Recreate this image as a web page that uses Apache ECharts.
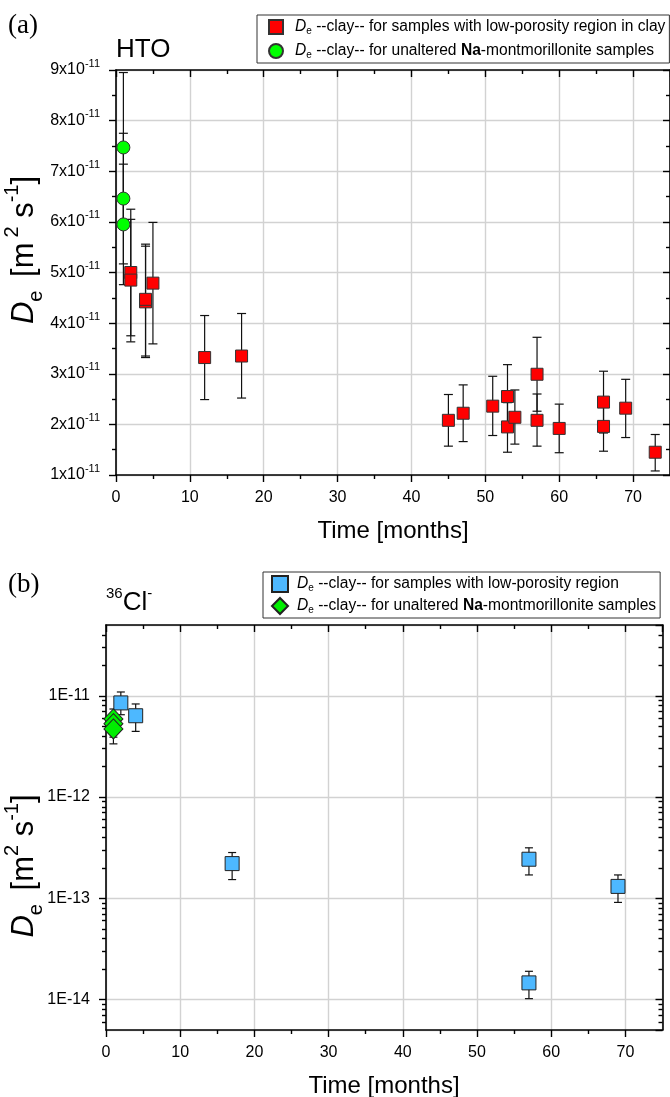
<!DOCTYPE html>
<html><head><meta charset="utf-8">
<script src="https://cdn.jsdelivr.net/npm/echarts@6/dist/echarts.min.js"></script>
<style>html,body{margin:0;padding:0;background:#fff}#c{width:670px;height:1097px}</style>
</head><body><div id="c"></div>
<script>
// ---------- Panel (a): HTO, De in m^2 s^-1 ----------
const htoRedX  = [2, 2, 4, 4, 5, 12, 17, 45, 47, 51, 53, 53, 54, 57, 57, 60, 66, 66, 69, 73];
const htoRedDe = [5.00e-11, 4.85e-11, 4.42e-11, 4.47e-11, 4.79e-11, 3.32e-11, 3.35e-11, 2.08e-11, 2.22e-11, 2.36e-11,
                  2.55e-11, 1.95e-11, 2.14e-11, 2.99e-11, 2.08e-11, 1.92e-11, 2.44e-11, 1.96e-11, 2.32e-11, 1.45e-11];
const htoRedLo = [3.75e-11, 3.63e-11, 3.32e-11, 3.35e-11, 3.59e-11, 2.49e-11, 2.52e-11, 1.57e-11, 1.66e-11, 1.78e-11,
                  1.93e-11, 1.45e-11, 1.61e-11, 2.26e-11, 1.57e-11, 1.44e-11, 1.83e-11, 1.47e-11, 1.74e-11, 1.08e-11];
const htoRedHi = [6.25e-11, 6.05e-11, 5.52e-11, 5.56e-11, 5.99e-11, 4.15e-11, 4.19e-11, 2.59e-11, 2.78e-11, 2.95e-11,
                  3.18e-11, 2.43e-11, 2.68e-11, 3.72e-11, 2.60e-11, 2.40e-11, 3.05e-11, 2.44e-11, 2.89e-11, 1.80e-11];
const htoGreenX  = [1, 1, 1];
const htoGreenDe = [7.47e-11, 6.46e-11, 5.95e-11];
const htoGreenLo = [5.99e-11, 5.17e-11, 4.76e-11];
const htoGreenHi = [8.95e-11, 7.75e-11, 7.14e-11];

// ---------- Panel (b): 36Cl-, De in m^2 s^-1 ----------
const clBlueX  = [2, 4, 17, 57, 57, 69];
const clBlueDe = [8.5e-12, 6.35e-12, 2.2e-13, 2.43e-13, 1.46e-14, 1.31e-13];
const clBlueLo = [6.5e-12, 4.45e-12, 1.53e-13, 1.7e-13, 1.02e-14, 9.1e-14];
const clBlueHi = [1.09e-11, 8.3e-12, 2.83e-13, 3.15e-13, 1.9e-14, 1.7e-13];
const clGreenX  = [1, 1, 1];
const clGreenDe = [5.9e-12, 5.3e-12, 4.7e-12];
const clGreenLo = [4.6e-12, 3.9e-12, 3.35e-12];
const clGreenHi = [7.4e-12, 6.6e-12, 6.0e-12];

// ---------- ticks ----------
const xMinorTicks = [5, 15, 25, 35, 45, 55, 65];
const htoYMin = 1e-11, htoYMax = 9e-11, htoYStep = 1e-11;
const clYMin = 5e-15, clYMax = 5e-11;

const legendText = {
  'hto-red':  '{i|D}{sub|e} --clay-- for samples with low-porosity region in clay',
  'hto-green':'{i|D}{sub|e} --clay-- for unaltered {b|Na}-montmorillonite samples',
  'cl-blue':  '{i|D}{sub|e} --clay-- for samples with low-porosity region',
  'cl-green': '{i|D}{sub|e} --clay-- for unaltered {b|Na}-montmorillonite samples'
};

const FONT = 'Liberation Sans';
const AXC = '#000';
const GRID_C = '#d2d2d2';

const logMin = Math.log10(clYMin), logMax = Math.log10(clYMax);
const clMinor = [];
for (let d = -15; d <= -11; d++) for (let k = 2; k <= 9; k++) {
  const v = d + Math.log10(k);
  if (v > logMin + 1e-6 && v < logMax - 1e-6) clMinor.push(v);
}

function xMain(grid, pos, labels) {
  return { gridIndex: grid, type: 'value', min: 0, max: 75, interval: 10, position: pos,
    axisLine: { show: true, onZero: false, lineStyle: { color: AXC, width: 1.6 } },
    axisTick: { show: true, inside: pos === 'top', length: 7, lineStyle: { color: AXC, width: 1.4 } },
    axisLabel: { show: labels, margin: 15, fontSize: 16, color: '#000', fontFamily: FONT, showMaxLabel: false },
    splitLine: { show: labels, lineStyle: { color: GRID_C, width: 1.4 } } };
}
function xMinor(grid, pos) {
  return { gridIndex: grid, type: 'value', min: 0, max: 75, position: pos,
    axisLine: { show: false, onZero: false },
    axisTick: { show: true, inside: pos === 'top', length: 4, customValues: xMinorTicks, lineStyle: { color: AXC, width: 1.4 } },
    axisLabel: { show: false }, splitLine: { show: false } };
}
function yHto(pos) {
  return { gridIndex: 0, type: 'value', min: htoYMin, max: htoYMax, interval: htoYStep, position: pos,
    axisLine: { show: true, onZero: false, lineStyle: { color: AXC, width: 1.6 } },
    axisTick: { show: true, inside: pos === 'right', length: 7, lineStyle: { color: AXC, width: 1.4 } },
    minorTick: { show: true, splitNumber: 2, length: 4, lineStyle: { color: AXC, width: 1.4 } },
    axisLabel: { show: pos === 'left', margin: 16, color: '#000', fontFamily: FONT,
      formatter: v => '{m|' + Math.round(v / 1e-11) + 'x10}{s|-11}',
      rich: { m: { fontSize: 16, lineHeight: 24, fontFamily: FONT, color: '#000' },
              s: { fontSize: 11, lineHeight: 11, verticalAlign: 'top', fontFamily: FONT, color: '#000' } } },
    splitLine: { show: pos === 'left', lineStyle: { color: GRID_C, width: 1.4 } } };
}
function yCl(pos) {
  return { gridIndex: 1, type: 'log', logBase: 10, min: clYMin, max: clYMax, position: pos,
    axisLine: { show: true, onZero: false, lineStyle: { color: AXC, width: 1.6 } },
    axisTick: { show: true, inside: pos === 'right', length: 7, lineStyle: { color: AXC, width: 1.4 } },
    axisLabel: { show: pos === 'left', margin: 16, fontSize: 16, color: '#000', fontFamily: FONT,
      showMinLabel: false, showMaxLabel: false,
      formatter: v => '1E' + Math.round(Math.log10(v)) },
    splitLine: { show: pos === 'left', lineStyle: { color: GRID_C, width: 1.4 } } };
}
function yClMinor(pos) {
  return { gridIndex: 1, type: 'value', min: logMin, max: logMax, position: pos,
    axisLine: { show: false, onZero: false },
    axisTick: { show: true, inside: pos === 'right', length: 4, customValues: clMinor, lineStyle: { color: AXC, width: 1.4 } },
    axisLabel: { show: false }, splitLine: { show: false } };
}

function errSeries(xi, yi, xs, lo, hi, w) {
  return { type: 'custom', xAxisIndex: xi, yAxisIndex: yi, silent: true, z: 2,
    data: xs.map((x, i) => [x, lo[i], hi[i]]),
    encode: { x: 0, y: [1, 2] },
    renderItem: (p, api) => {
      const a = api.coord([api.value(0), api.value(1)]);
      const b = api.coord([api.value(0), api.value(2)]);
      const st = { stroke: '#111', lineWidth: 1.2 };
      return { type: 'group', children: [
        { type: 'line', shape: { x1: a[0], y1: a[1], x2: b[0], y2: b[1] }, style: st },
        { type: 'line', shape: { x1: a[0] - w, y1: a[1], x2: a[0] + w, y2: a[1] }, style: st },
        { type: 'line', shape: { x1: b[0] - w, y1: b[1], x2: b[0] + w, y2: b[1] }, style: st }
      ] };
    } };
}
function pts(xs, ys) { return xs.map((x, i) => [x, ys[i]]); }

const LF = 15.6;
function legend(left, top, names, size, gap, padL, textGap) {
  return { orient: 'vertical', left: left, top: top, data: names,
    borderColor: '#333', borderWidth: 1, padding: [3, 4, 3, padL], itemGap: gap,
    itemWidth: size, itemHeight: size, selectedMode: false,
    formatter: n => '{g|}' + legendText[n],
    textStyle: { fontSize: LF, lineHeight: 18, fontFamily: FONT, color: '#000',
      rich: {
        g: { width: textGap, fontSize: LF, lineHeight: 18 },
        i: { fontStyle: 'italic', fontSize: LF, lineHeight: 18, fontFamily: FONT, color: '#000' },
        sub: { fontSize: 10, lineHeight: 10, verticalAlign: 'bottom', fontFamily: FONT, color: '#000' },
        b: { fontWeight: 'bold', fontSize: LF, lineHeight: 18, fontFamily: FONT, color: '#000' }
      } } };
}

const TF = 31, TS = 20;
const titleRich = {
  i: { fontStyle: 'italic', fontSize: TF, lineHeight: 44, fontFamily: FONT, fill: '#000' },
  m: { fontSize: TF, lineHeight: 44, fontFamily: FONT, fill: '#000' },
  g: { width: 5, fontSize: TF, lineHeight: 44 },
  sup: { fontSize: TS, lineHeight: TS, verticalAlign: 'top', fontFamily: FONT, fill: '#000' },
  sub: { fontSize: TS, lineHeight: TS, verticalAlign: 'bottom', fontFamily: FONT, fill: '#000' }
};
const yTitleTop = '{i|D}{sub|e}{g|}{m| [m}{g|}{sup|2}{m| s}{sup|-1}{m|]}';
const yTitleBot = '{i|D}{sub|e}{g|}{m| [m}{sup|2}{m| s}{sup|-1}{m|]}';

const chart = echarts.init(document.getElementById('c'), null, { renderer: 'canvas' });
chart.setOption({
  animation: false,
  backgroundColor: '#fff',
  textStyle: { fontFamily: FONT },
  grid: [
    { left: 116, top: 70, width: 555, height: 405 },
    { left: 106, top: 625, width: 556.5, height: 405 }
  ],
  xAxis: [xMain(0, 'bottom', true), xMain(0, 'top', false), xMinor(0, 'bottom'), xMinor(0, 'top'),
          xMain(1, 'bottom', true), xMain(1, 'top', false), xMinor(1, 'bottom'), xMinor(1, 'top')],
  yAxis: [yHto('left'), yHto('right'), yCl('left'), yCl('right'), yClMinor('left'), yClMinor('right')],
  legend: [legend(257, 15, ['hto-red', 'hto-green'], 14, 6, 11, 7),
           legend(263, 572, ['cl-blue', 'cl-green'], 16, 4, 8, 4)],
  series: [
    errSeries(0, 0, htoRedX, htoRedLo, htoRedHi, 4.5),
    errSeries(0, 0, htoGreenX, htoGreenLo, htoGreenHi, 4.5),
    { type: 'scatter', name: 'hto-red', xAxisIndex: 0, yAxisIndex: 0, symbol: 'rect', symbolSize: 12,
      data: pts(htoRedX, htoRedDe), z: 3,
      itemStyle: { color: '#ff0000', borderColor: '#333', borderWidth: 1, opacity: 1 } },
    { type: 'scatter', name: 'hto-green', xAxisIndex: 0, yAxisIndex: 0, symbol: 'circle', symbolSize: 13,
      data: pts(htoGreenX, htoGreenDe), z: 3,
      itemStyle: { color: '#00ff00', borderColor: '#333', borderWidth: 1, opacity: 1 } },
    errSeries(4, 2, clBlueX, clBlueLo, clBlueHi, 4),
    errSeries(4, 2, clGreenX, clGreenLo, clGreenHi, 4),
    { type: 'scatter', name: 'cl-blue', xAxisIndex: 4, yAxisIndex: 2, symbol: 'rect', symbolSize: 14,
      data: pts(clBlueX, clBlueDe), z: 3,
      itemStyle: { color: '#4db8ff', borderColor: '#222', borderWidth: 1, opacity: 1 } },
    { type: 'scatter', name: 'cl-green', xAxisIndex: 4, yAxisIndex: 2, symbol: 'diamond', symbolSize: [19, 20],
      data: pts(clGreenX, clGreenDe), z: 4,
      itemStyle: { color: '#00ee00', borderColor: '#222', borderWidth: 1, opacity: 1 } }
  ],
  graphic: [
    { type: 'text', x: 8, y: 26, style: { text: '(a)', fontSize: 27, fontFamily: 'Liberation Serif', fill: '#000', verticalAlign: 'middle' } },
    { type: 'text', x: 116, y: 50, style: { text: 'HTO', fontSize: 26, fontFamily: FONT, fill: '#000', verticalAlign: 'middle' } },
    { type: 'text', x: 8, y: 585, style: { text: '(b)', fontSize: 27, fontFamily: 'Liberation Serif', fill: '#000', verticalAlign: 'middle' } },
    { type: 'text', x: 106, y: 603, style: { text: '{s|36}{m|Cl}{s|-}', verticalAlign: 'middle',
      rich: { s: { fontSize: 15, lineHeight: 15, verticalAlign: 'top', fontFamily: FONT, fill: '#000' },
              m: { fontSize: 26, lineHeight: 34, fontFamily: FONT, fill: '#000' } } } },
    { type: 'text', x: 24, y: 250, rotation: Math.PI / 2,
      style: { text: yTitleTop, align: 'center', verticalAlign: 'middle', rich: titleRich } },
    { type: 'text', x: 24, y: 866, rotation: Math.PI / 2,
      style: { text: yTitleBot, align: 'center', verticalAlign: 'middle', rich: titleRich } },
    { type: 'text', x: 393, y: 531, style: { text: 'Time [months]', fontSize: 24, fontFamily: FONT, fill: '#000', align: 'center', verticalAlign: 'middle' } },
    { type: 'text', x: 384, y: 1086, style: { text: 'Time [months]', fontSize: 24, fontFamily: FONT, fill: '#000', align: 'center', verticalAlign: 'middle' } }
  ]
});
</script></body></html>
